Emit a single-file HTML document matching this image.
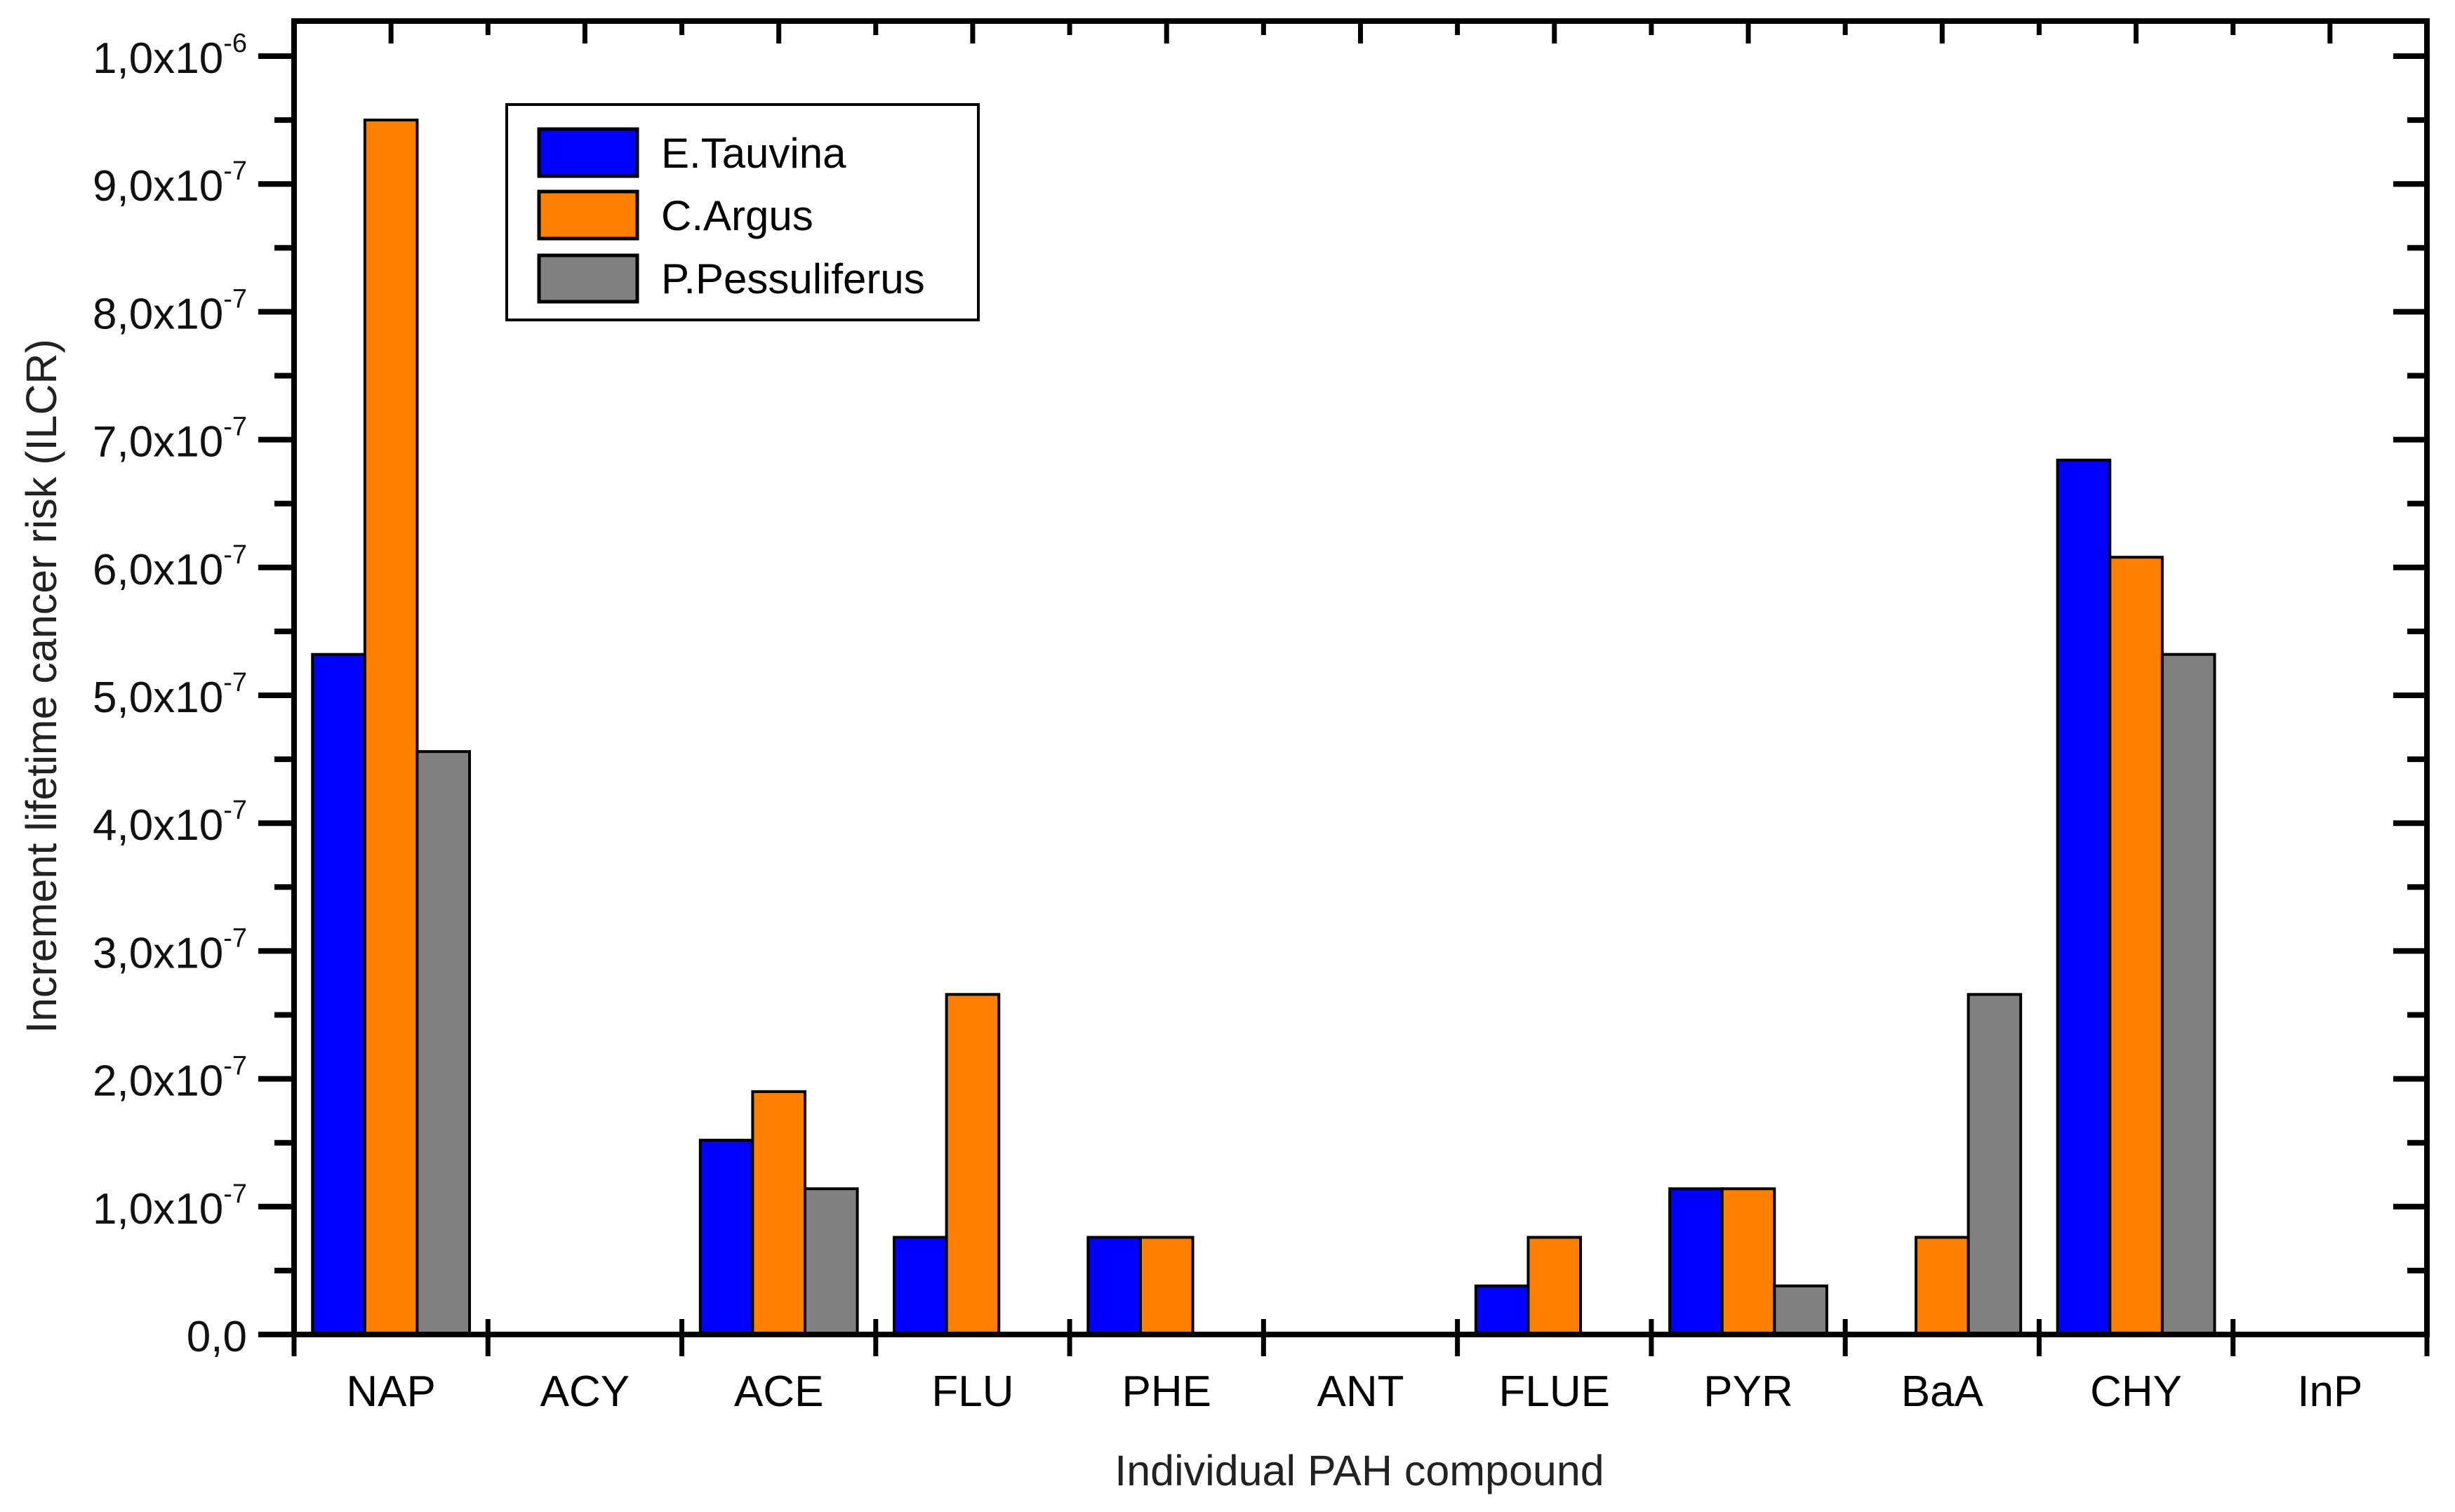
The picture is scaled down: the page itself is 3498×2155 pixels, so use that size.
<!DOCTYPE html>
<html><head><meta charset="utf-8"><style>
html,body{margin:0;padding:0;background:#fff;}
svg{display:block;font-family:"Liberation Sans",Arial,sans-serif;}
</style></head><body>
<svg id="chart" width="3498" height="2155" viewBox="0 0 3498 2155" xmlns="http://www.w3.org/2000/svg">
<rect x="0" y="0" width="3498" height="2155" fill="#fff"/>
<g id="bars"></g>
<g id="axes"></g>
<text x="1937" y="2117" font-size="61" text-anchor="middle" fill="#222">Individual PAH compound</text>
<text transform="translate(80,978) rotate(-90)" font-size="61" text-anchor="middle" fill="#222">Increment lifetime cancer risk (ILCR)</text>
<g>
<rect x="722" y="149" width="672" height="307" fill="#fff" stroke="#000" stroke-width="4"/>
<g>
<rect x="768" y="184" width="140" height="67" fill="#0000ff" stroke="#000" stroke-width="5"/>
<text x="942" y="239" font-size="60" fill="#000">E.Tauvina</text></g>
<g>
<rect x="768" y="273" width="140" height="67" fill="#ff8000" stroke="#000" stroke-width="5"/>
<text x="942" y="328" font-size="60" fill="#000">C.Argus</text></g>
<g>
<rect x="768" y="364" width="140" height="66" fill="#808080" stroke="#000" stroke-width="5"/>
<text x="942" y="418" font-size="60" fill="#000">P.Pessuliferus</text></g>
</g>
</svg>
<script>
const categories = ["NAP","ACY","ACE","FLU","PHE","ANT","FLUE","PYR","BaA","CHY","InP"];
const seriesNames = ["E.Tauvina","C.Argus","P.Pessuliferus"];
const eTauvina = [5.32e-7,0,1.52e-7,0.76e-7,0.76e-7,0,0.38e-7,1.14e-7,0,6.84e-7,0];
const cArgus = [9.5e-7,0,1.9e-7,2.66e-7,0.76e-7,0,0.76e-7,1.14e-7,0.76e-7,6.08e-7,0];
const pPessuliferus = [4.56e-7,0,1.14e-7,0,0,0,0,0.38e-7,2.66e-7,5.32e-7,0];
const yTickValues = [0,1e-7,2e-7,3e-7,4e-7,5e-7,6e-7,7e-7,8e-7,9e-7,1e-6];
const yTickMant = ["0,0","1,0","2,0","3,0","4,0","5,0","6,0","7,0","8,0","9,0","1,0"];
const yTickExp = ["","-7","-7","-7","-7","-7","-7","-7","-7","-7","-6"];

const NS="http://www.w3.org/2000/svg";
const L=419,R=3458,T=30,B=1902,Y1=80;
const catW=(R-L)/categories.length;
function xScale(i){return L+catW*i;}
function yScale(v){return B-(B-Y1)*(v/1e-6);}
function mk(tag,attrs,parent){const e=document.createElementNS(NS,tag);for(const k in attrs)e.setAttribute(k,attrs[k]);parent.appendChild(e);return e;}
const bars=document.getElementById('bars'),axes=document.getElementById('axes');
const series=[eTauvina,cArgus,pPessuliferus];
const colors=["#0000ff","#ff8000","#808080"];
const bw=catW*0.27;
categories.forEach((c,i)=>{
  const cx=xScale(i)+catW/2;
  series.forEach((s,j)=>{
    const v=s[i]; if(!v) return;
    const y=yScale(v);
    const r=mk('rect',{x:cx-1.5*bw+j*bw,y:y,width:bw,height:B-y,fill:colors[j],stroke:'#000','stroke-width':4},bars);
    
    
  });
  const t=mk('text',{x:cx,y:2004,'font-size':62,'text-anchor':'middle',fill:'#000'},axes);
  t.textContent=c;
  
  
});
const f=mk('rect',{x:L,y:T,width:R-L,height:B-T,fill:'none',stroke:'#000','stroke-width':8},axes);


for(let i=0;i<=categories.length;i++){
  const x=xScale(i);
  mk('line',{x1:x,y1:1880,x2:x,y2:1933,stroke:'#000','stroke-width':7},axes);
  mk('line',{x1:x,y1:T,x2:x,y2:T+20,stroke:'#000','stroke-width':7},axes);
  if(i<categories.length){
    const xc=x+catW/2;
    mk('line',{x1:xc,y1:T,x2:xc,y2:T+32,stroke:'#000','stroke-width':7},axes);
  }
}
yTickValues.forEach((v,i)=>{
  const y=yScale(v);
  mk('line',{x1:L-51,y1:y,x2:L,y2:y,stroke:'#000','stroke-width':8},axes);
  mk('line',{x1:R-48,y1:y,x2:R,y2:y,stroke:'#000','stroke-width':8},axes);
  if(i<yTickValues.length-1){
    const ym=yScale(v+0.5e-7);
    mk('line',{x1:L-28,y1:ym,x2:L,y2:ym,stroke:'#000','stroke-width':8},axes);
    mk('line',{x1:R-28,y1:ym,x2:R,y2:ym,stroke:'#000','stroke-width':8},axes);
  }
  const t=mk('text',{x:352,y:y+24,'font-size':62,'text-anchor':'end',fill:'#111'},axes);
  if(yTickExp[i]){
    t.textContent=yTickMant[i]+'x10';
    const s=mk('tspan',{'font-size':38,dy:-30},t);
    s.textContent=yTickExp[i];
  } else {
    t.textContent=yTickMant[i];
  }
  
  
});
</script>
</body></html>
